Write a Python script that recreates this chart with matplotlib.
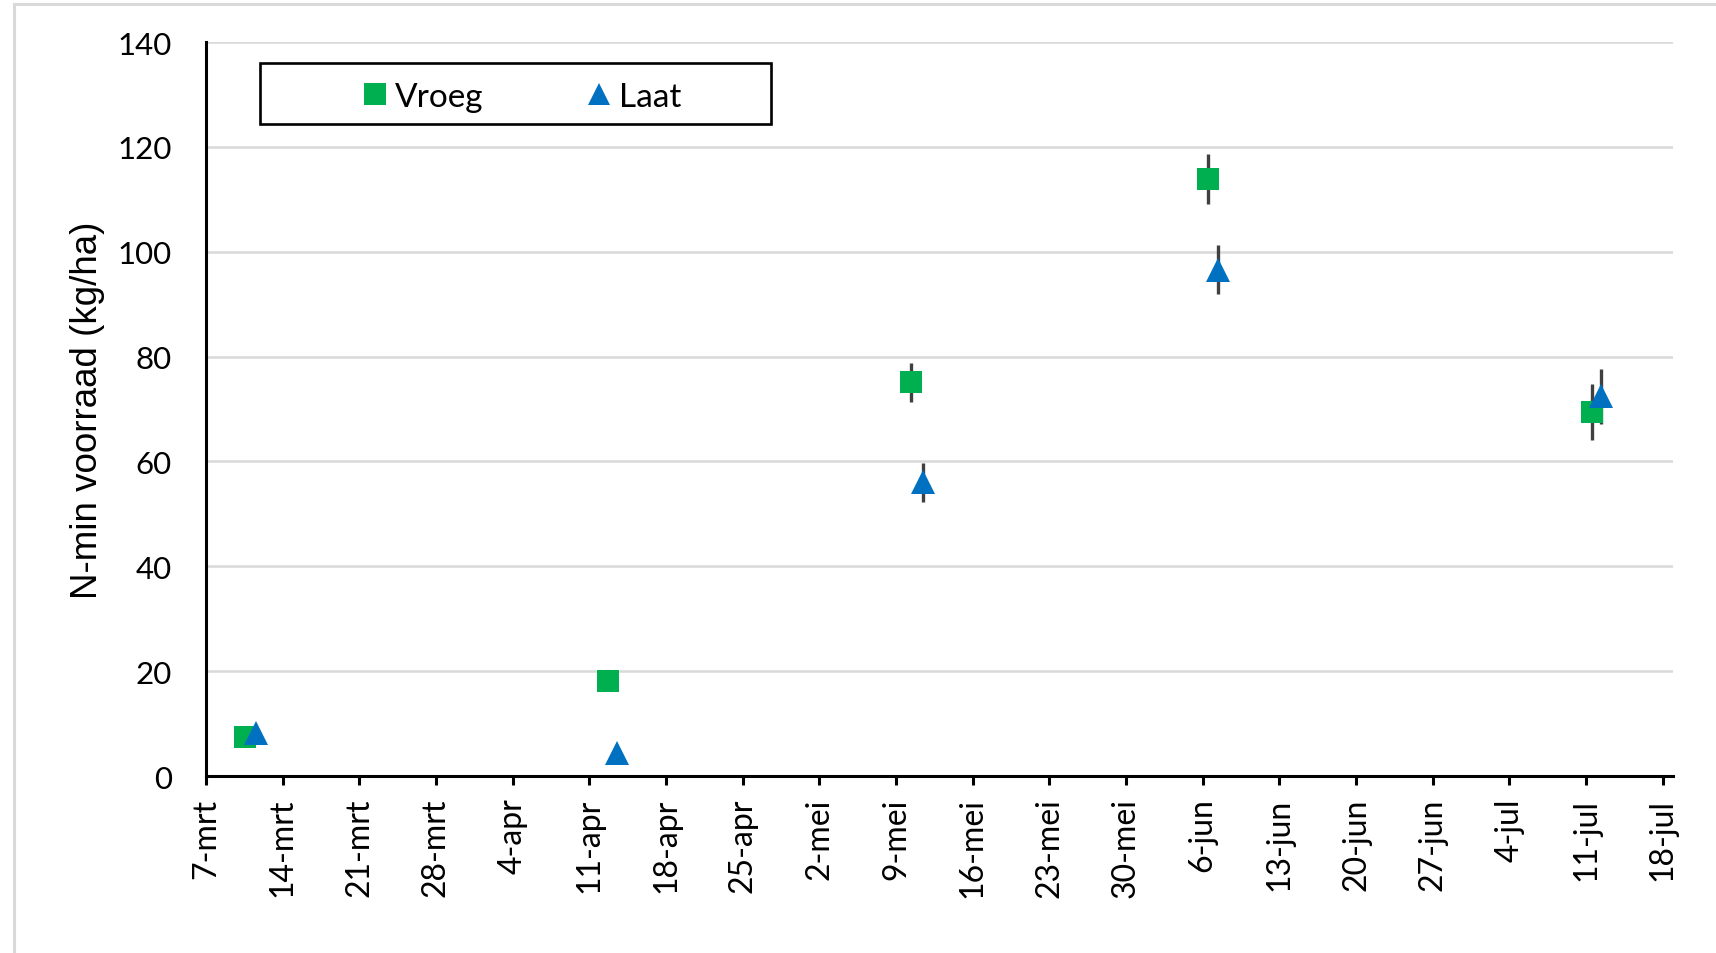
import matplotlib
matplotlib.use("Agg")
import matplotlib.pyplot as plt
from matplotlib.lines import Line2D
from matplotlib.patches import Rectangle

# Bemonsteringsdagen (dagen na 7 maart) en N-min voorraad (kg/ha)
dag_vroeg = [3.6, 36.7, 64.4, 91.5, 126.5]
nmin_vroeg = [7.5, 18.2, 75.1, 113.9, 69.4]
fout_vroeg = [1.0, 1.0, 3.7, 4.7, 5.3]

dag_laat = [4.6, 37.5, 65.5, 92.4, 127.4]
nmin_laat = [8.2, 4.3, 56.0, 96.6, 72.4]
fout_laat = [1.0, 1.0, 3.7, 4.7, 5.2]

datum_labels = ['7-mrt', '14-mrt', '21-mrt', '28-mrt', '4-apr', '11-apr', '18-apr',
                '25-apr', '2-mei', '9-mei', '16-mei', '23-mei', '30-mei', '6-jun',
                '13-jun', '20-jun', '27-jun', '4-jul', '11-jul', '18-jul']
y_ticks = [0, 20, 40, 60, 80, 100, 120, 140]

groen = '#00B050'
blauw = '#0070C0'

fig = plt.figure(figsize=(17.16, 9.54), dpi=100)
ax = fig.add_axes([0.1200, 0.1855, 0.8547, 0.7694])

# foutbalken eerst, markers erover
ax.errorbar(dag_vroeg, nmin_vroeg, yerr=fout_vroeg, fmt='none', ecolor='#404040',
            elinewidth=2.4, capsize=0, zorder=2)
ax.errorbar(dag_laat, nmin_laat, yerr=fout_laat, fmt='none', ecolor='#404040',
            elinewidth=2.4, capsize=0, zorder=2)
ax.plot(dag_vroeg, nmin_vroeg, 's', color=groen, markersize=16.5, markeredgewidth=0, zorder=3)
ax.plot(dag_laat, nmin_laat, '^', color=blauw, markersize=17, markeredgewidth=0, zorder=4)

ax.set_xlim(0, 133.9)
ax.set_ylim(0, 140)
ax.set_xticks([7 * i for i in range(len(datum_labels))])
ax.set_xticklabels(datum_labels, rotation=90, fontfamily='Lato', fontsize=23)
ax.set_yticks(y_ticks)
ax.set_yticklabels([str(v) for v in y_ticks], fontfamily='Lato', fontsize=22.5)
ax.tick_params(axis='x', direction='out', length=6.5, width=2.2, pad=9)
ax.tick_params(axis='y', length=0, pad=24.5)

ax.grid(axis='y', color='#D9D9D9', linewidth=1.8, zorder=0)
ax.set_axisbelow(True)
for s in ['top', 'right']:
    ax.spines[s].set_visible(False)
for s in ['left', 'bottom']:
    ax.spines[s].set_linewidth(2.2)
    ax.spines[s].set_zorder(5)

ax.set_ylabel('N-min voorraad (kg/ha)', fontfamily='Liberation Sans', fontsize=26.5)
ax.yaxis.set_label_coords(-0.069, 0.5)

# legenda in een zwart kader
ax.add_patch(Rectangle((0.0368, 0.888), 0.3484, 0.084, transform=ax.transAxes,
                       facecolor='white', edgecolor='black', linewidth=1.9, zorder=6))
handles = [Line2D([], [], marker='s', color=groen, linestyle='none', markersize=16.5, markeredgewidth=0),
           Line2D([], [], marker='^', color=blauw, linestyle='none', markersize=15.5, markeredgewidth=0)]
leg = ax.legend(handles, ['Vroeg', 'Laat'], ncol=2, frameon=False, loc='center',
                bbox_to_anchor=(0.2158, 0.9255), prop={'family': 'Lato', 'size': 24},
                handlelength=0.7, handletextpad=0.25, columnspacing=3.1, borderpad=0)
leg.set_zorder(7)

# lichtgrijze rand om de grafiek
fig.add_artist(Rectangle((13.5 / 1716, -0.1), 2.0, 1.1 - 4.7 / 954, transform=fig.transFigure,
                         fill=False, edgecolor='#D9D9D9', linewidth=2.2))

fig.savefig('out.png', dpi=100)
